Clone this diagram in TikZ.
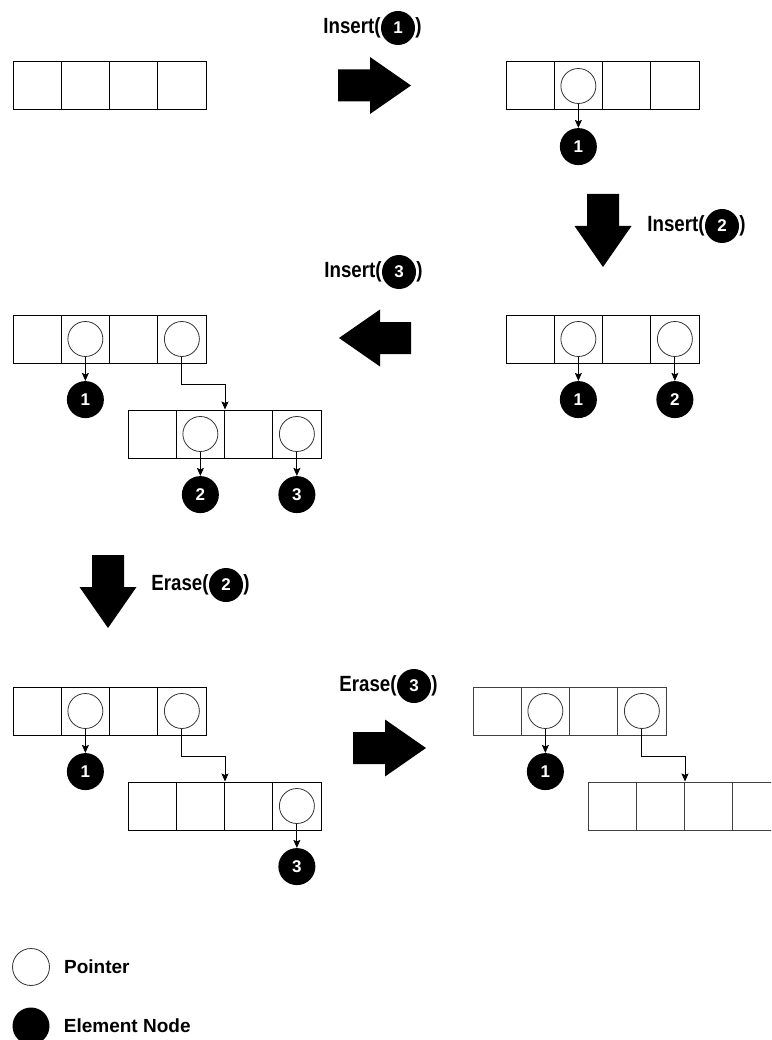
\documentclass[tikz,border=0pt]{standalone}
\usepackage{fontspec}
\usepackage{graphicx}
\setmainfont{Liberation Sans}
\usetikzlibrary{arrows.meta, positioning}

\newcommand{\narrow}[1]{\scalebox{0.85}[1]{#1}}

\begin{document}
\begin{tikzpicture}[x=1pt, y=-1pt, >={Stealth[length=8pt, width=7pt, inset=1.5pt]},
    font=\fontsize{19}{22}\selectfont\bfseries,
    cell/.style={draw, line width=1pt, minimum width=48.25pt, minimum height=48pt, inner sep=0pt},
    ptr/.style={draw=black!80, line width=0.8pt, circle, minimum size=35pt, inner sep=0pt},
    elem/.style={circle, fill=black, text=white, minimum size=37pt, inner sep=0pt, font=\fontsize{17}{20}\selectfont\bfseries},
    lbl/.style={inner sep=0pt, font=\fontsize{22}{24}\selectfont\bfseries},
    link/.style={->, line width=0.8pt}]
    \useasboundingbox (0,0) rectangle (771,1040);
    \clip (0,0) rectangle (771,1040);

    % Arrays of four cells each
    \foreach \arr/\x/\y in {a/13/62, b/506/62, c/506/315, d/13/315, e/128/410, f/13/687, g/128/782}
        \foreach \i in {1,...,4}
            \node[cell] (\arr\i) at ({\x+48.25*\i-24.125}, {\y+24}) {};
    \foreach \arr/\x/\y in {h/473/687, i/588/782}
        \foreach \i in {1,...,4}
            \node[cell, draw=black!75] (\arr\i) at ({\x+48.25*\i-24.125}, {\y+24}) {};

    % Pointers sitting in the cells
    \foreach \c in {b2, c2, c4, d2, d4, e2, e4, f2, f4, g4, h2, h4}
        \node[ptr] (p\c) at (\c) {};

    % Element nodes hanging below their pointers
    \foreach \c/\v in {b2/1, c2/1, c4/2, d2/1, e2/2, e4/3, f2/1, g4/3, h2/1} {
        \node[elem, below=24pt of p\c] (n\c) {\v};
        \draw[link] (p\c) -- (n\c);
    }

    % Pointers to the next array
    \draw[link] (pd4.south) -- ++(0,27) -| (e2.north east);
    \draw[link] (pf4.south) -- ++(0,27) -| (g2.north east);
    \draw[link] (ph4.south) -- ++(0,27) -| (i2.north east);

    % Block arrows between the steps
    \fill (338,69.5) -- (370,69.5) -- (370,57) -- (411,85.5) -- (370,114) -- (370,101.5) -- (338,101.5) -- cycle;
    \fill (587,194) -- (619,194) -- (619,226) -- (631.5,226) -- (603,267) -- (574.5,226) -- (587,226) -- cycle;
    \fill (411,322) -- (380,322) -- (380,309.5) -- (339,338) -- (380,366.5) -- (380,354) -- (411,354) -- cycle;
    \fill (92,555) -- (124,555) -- (124,587) -- (136.5,587) -- (108,628) -- (79.5,587) -- (92,587) -- cycle;
    \fill (353,732) -- (385,732) -- (385,719.5) -- (426,748) -- (385,776.5) -- (385,764) -- (353,764) -- cycle;

    % Step labels
    \node[elem, minimum size=34pt] (ins1) at (398,28) {1};
    \node[lbl, left=0pt of ins1] (ins1-l) {\narrow{Insert(}};
    \node[lbl, right=0pt of ins1] (ins1-r) {\narrow{)}};

    \node[elem, minimum size=34pt] (ins2) at (722,226) {2};
    \node[lbl, left=0pt of ins2] (ins2-l) {\narrow{Insert(}};
    \node[lbl, right=0pt of ins2] (ins2-r) {\narrow{)}};

    \node[elem, minimum size=34pt] (ins3) at (399,272) {3};
    \node[lbl, left=0pt of ins3] (ins3-l) {\narrow{Insert(}};
    \node[lbl, right=0pt of ins3] (ins3-r) {\narrow{)}};

    \node[elem, minimum size=34pt] (era2) at (226,585) {2};
    \node[lbl, left=0pt of era2] (era2-l) {\narrow{Erase(}};
    \node[lbl, right=0pt of era2] (era2-r) {\narrow{)}};

    \node[elem, minimum size=34pt] (era3) at (414,686) {3};
    \node[lbl, left=0pt of era3] (era3-l) {\narrow{Erase(}};
    \node[lbl, right=0pt of era3] (era3-r) {\narrow{)}};

    % Legend
    \node[ptr, minimum size=37pt] (keyptr) at (31,967) {};
    \node[right=14pt of keyptr, inner sep=0pt] (keyptr-txt) {Pointer};
    \node[elem, minimum size=37pt] (keyelem) at (31,1026) {};
    \node[right=14pt of keyelem, inner sep=0pt] (keyelem-txt) {Element Node};
\end{tikzpicture}
\end{document}
